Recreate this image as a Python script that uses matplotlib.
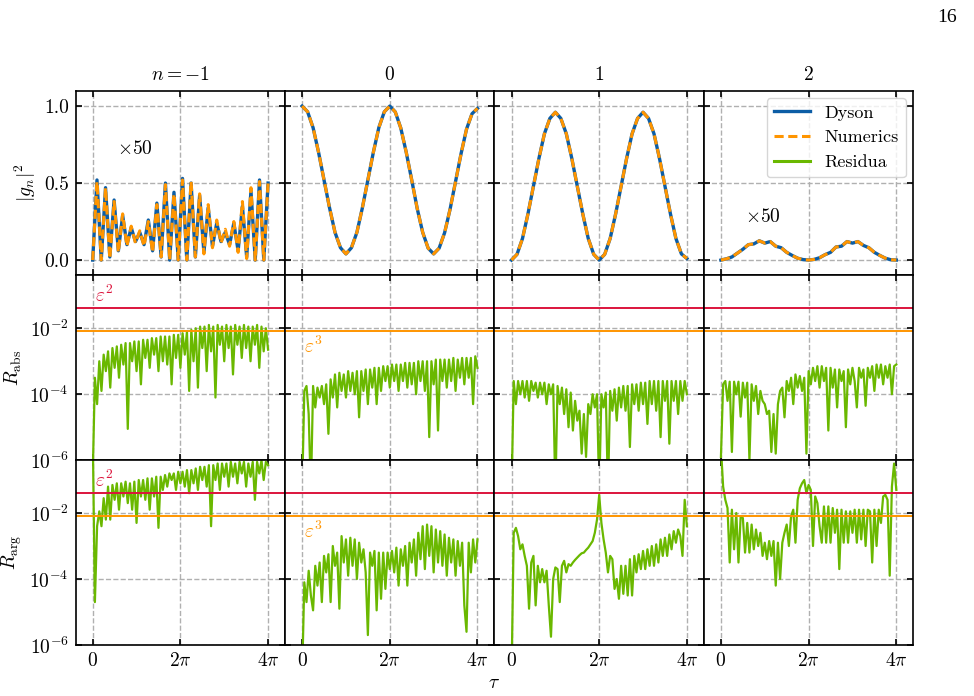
import numpy as np
import matplotlib
matplotlib.use("Agg")
import matplotlib.pyplot as plt
from matplotlib.lines import Line2D
from matplotlib.ticker import FixedLocator, NullLocator

plt.rcParams.update({
    "font.family": "serif",
    "font.serif": ["cmr10"],
    "mathtext.fontset": "cm",
    "axes.formatter.use_mathtext": True,
    "axes.unicode_minus": False,
    "font.size": 14,
})

blue = "#0C5DA5"
orange = "#FF9500"
green = "#6AB800"
crimson = "#DC143C"
eps = 0.2

col_titles = [r"$n=-1$", r"$0$", r"$1$", r"$2$"]
xtick_labels = [r"$0$", r"$2\pi$", r"$4\pi$"]

# |g_n|^2 (n=-1 and n=2 are scaled x50)
g_m1_dyson = [0.0, 0.52, 0.0, 0.47, 0.02, 0.39, 0.06, 0.29, 0.10, 0.21, 0.12, 0.18, 0.10, 0.26,
              0.06, 0.37, 0.02, 0.50, 0.0, 0.44, 0.0, 0.53, 0.0, 0.50, 0.02, 0.42, 0.05, 0.34,
              0.09, 0.24, 0.12, 0.18, 0.10, 0.24, 0.06, 0.35, 0.02, 0.45, 0.0, 0.52, 0.0, 0.50]
g_m1_num = [0.0, 0.51, 0.0, 0.47, 0.01, 0.38, 0.05, 0.30, 0.09, 0.22, 0.11, 0.19, 0.09, 0.25,
            0.05, 0.36, 0.02, 0.49, 0.0, 0.43, 0.0, 0.52, 0.0, 0.51, 0.02, 0.43, 0.04, 0.36,
            0.08, 0.26, 0.11, 0.20, 0.09, 0.25, 0.05, 0.38, 0.01, 0.47, 0.0, 0.51, 0.0, 0.50]
g_0 = [1.0, 0.963, 0.86, 0.70, 0.52, 0.34, 0.18, 0.08, 0.04, 0.08, 0.18, 0.34, 0.52, 0.70, 0.86,
       0.963, 1.0, 0.962, 0.858, 0.70, 0.52, 0.335, 0.18, 0.077, 0.04, 0.077, 0.177, 0.33, 0.51,
       0.69, 0.85, 0.95, 0.985]
g_1 = [0.0, 0.037, 0.14, 0.30, 0.48, 0.66, 0.82, 0.92, 0.96, 0.92, 0.82, 0.66, 0.48, 0.30, 0.14,
       0.037, 0.0, 0.037, 0.14, 0.30, 0.48, 0.66, 0.82, 0.92, 0.96, 0.92, 0.82, 0.66, 0.48, 0.30,
       0.14, 0.04, 0.01]
g_2 = [0.0, 0.008, 0.02, 0.045, 0.07, 0.10, 0.105, 0.125, 0.11, 0.12, 0.09, 0.08, 0.05, 0.03,
       0.012, 0.003, 0.0, 0.004, 0.015, 0.035, 0.05, 0.085, 0.09, 0.12, 0.11, 0.12, 0.095, 0.08,
       0.05, 0.03, 0.012, 0.002, 0.0]

# log10 of residua, R_abs
rabs_m1 = [-6.5,
           -3.5, -4.3, -3.0, -3.9, -2.8, -3.3, -2.7, -3.8, -2.6, -3.2, -2.55, -3.5, -2.5, -3.1, -2.45, -5.05,
           -2.45, -3.0, -2.4, -3.3, -2.4, -3.7, -2.35, -2.9, -2.35, -3.2, -2.3, -2.8, -2.3, -3.3, -2.25, -3.0,
           -2.25, -3.1, -2.25, -3.7, -2.2, -2.9, -2.2, -3.2, -2.15, -2.8, -2.1, -3.9, -2.05, -3.0, -2.0, -3.8,
           -1.95, -2.6, -1.95, -3.3, -1.9, -2.7, -1.95, -4.1, -1.9, -2.5, -1.95, -3.0, -1.9, -2.6, -1.95, -3.4,
           -1.9, -2.5, -1.95, -2.9, -1.9, -2.6, -1.95, -3.0, -1.95, -2.5, -1.9, -3.2, -1.95, -2.7, -2.0, -2.65]
rabs_0 = [-7, -3.9, -3.75, -4.6, -7, -3.75, -4.4, -3.8, -4.1, -3.75, -4.3, -3.7, -5.2, -3.55, -4.1,
          -3.4, -4.4, -3.35, -3.9, -3.4, -4.1, -3.3, -3.9, -3.35, -4.0, -3.3, -4.7, -3.3, -3.9, -3.25,
          -4.3, -3.25, -3.8, -3.2, -4.3, -3.2, -3.9, -3.15, -3.6, -3.15, -3.8, -3.1, -3.6, -3.1, -3.9,
          -3.1, -3.6, -3.05, -3.8, -3.05, -3.7, -3.05, -4.0, -3.0, -3.6, -3.0, -3.9, -3.0, -5.3, -3.0,
          -3.7, -2.95, -5.1, -2.95, -3.6, -2.95, -3.8, -2.95, -3.6, -2.9, -3.9, -2.95, -3.5, -2.9, -3.7,
          -2.9, -3.5, -2.9, -4.3, -2.85, -3.2]
rabs_1 = [-7, -3.6, -4.3, -3.6, -4.0, -3.6, -4.1, -3.6, -4.2, -3.6, -3.9, -3.65, -4.1, -3.65, -4.0,
          -3.65, -4.3, -3.7, -4.0, -3.7, -7, -3.75, -4.3, -3.8, -4.6, -3.85, -5.0, -3.95, -5.1, -4.2,
          -4.8, -4.5, -5.8, -4.6, -5.9, -4.3, -4.6, -4.0, -4.4, -4.0, -7, -4.0, -4.4, -3.95, -7,
          -3.9, -4.5, -3.85, -4.8, -3.8, -4.4, -3.75, -4.5, -3.75, -5.6, -3.7, -4.3, -3.7, -4.5, -3.65,
          -4.3, -3.65, -4.9, -3.6, -4.3, -3.6, -4.5, -3.6, -5.3, -3.6, -4.2, -3.6, -5.5, -3.6, -4.2,
          -3.6, -4.6, -3.6, -4.2, -3.6, -4.0]
rabs_2 = [-5.9, -3.7, -3.6, -4.2, -3.62, -5.75, -3.62, -4.0, -3.62, -4.68, -3.65, -4.1, -3.65, -6.0,
          -3.7, -4.2, -3.75, -4.6, -3.9, -4.2, -4.3, -4.6, -4.5, -5.75, -4.6, -5.8, -4.3, -3.9, -3.8,
          -4.7, -3.6, -3.9, -3.5, -4.3, -3.4, -3.8, -3.45, -3.9, -3.5, -5.8, -3.3, -3.7, -3.2, -3.6,
          -3.15, -3.8, -3.15, -3.6, -3.2, -5.1, -3.2, -3.8, -3.25, -4.4, -3.25, -3.6, -3.3, -5.0, -3.25,
          -3.7, -3.2, -3.6, -4.4, -3.2, -3.5, -3.25, -4.35, -3.2, -3.5, -3.15, -3.9, -3.1, -3.5, -3.1,
          -3.7, -3.15, -3.5, -3.1, -4.0, -3.15, -3.1]

# log10 of residua, R_arg
rarg_m1 = [0.5, -4.7, -2.4, -1.95, -2.4, -1.55, -2.2, -1.2, -2.2, -1.15, -1.6, -1.1, -1.9, -1.1, -1.5,
           -1.05, -1.7, -1.1, -1.9, -1.05, -2.3, -1.0, -1.5, -1.0, -1.6, -0.95, -1.9, -0.95, -1.5, -0.9,
           -2.45, -0.9, -1.3, -0.85, -1.2, -0.8, -1.0, -0.8, -1.3, -0.75, -1.1, -0.75, -1.2, -0.7, -1.4,
           -0.7, -1.1, -0.65, -1.3, -0.6, -1.0, -0.6, -1.2, -0.55, -2.4, -0.55, -1.0, -0.5, -1.3, -0.5,
           -0.9, -0.5, -1.2, -0.45, -0.9, -0.5, -1.1, -0.45, -0.8, -0.45, -1.2, -0.5, -0.9, -0.45, -1.6,
           -0.45, -0.8, -0.4, -1.0, -0.45, -0.55]
rarg_0 = [-7, -4.1, -4.7, -3.75, -4.5, -4.95, -3.6, -4.2, -3.5, -4.7, -3.3, -3.8, -3.25, -4.7, -3.0,
          -3.6, -3.2, -4.9, -2.7, -3.5, -2.8, -3.9, -2.75, -3.6, -2.8, -4.0, -2.9, -3.5, -3.1, -3.8,
          -5.7, -3.2, -3.6, -3.15, -4.95, -3.2, -4.6, -3.2, -4.3, -3.2, -3.7, -3.15, -3.8, -3.05, -4.2,
          -3.1, -3.6, -3.0, -4.2, -2.9, -3.5, -2.8, -3.9, -2.6, -3.4, -2.4, -3.7, -2.35, -3.3, -2.4,
          -3.8, -2.5, -3.5, -2.55, -3.6, -2.65, -3.9, -2.75, -3.5, -2.8, -3.9, -2.85, -3.6, -2.9, -4.8,
          -5.6, -2.9, -3.8, -2.8, -3.5, -2.8]
rarg_1 = [-7, -2.6, -2.45, -2.7, -3.1, -2.95, -3.3, -3.6, -4.9, -3.5, -3.3, -4.8, -3.6, -4.1, -3.7,
          -4.1, -3.75, -4.8, -5.75, -4.0, -3.65, -3.7, -4.7, -3.6, -3.45, -3.8, -3.55, -3.6, -3.5, -3.42,
          -3.35, -3.28, -3.22, -3.2, -3.12, -3.05, -2.95, -2.85, -2.6, -2.2, -1.45, -2.3, -2.8, -3.2, -3.8,
          -3.3, -3.4, -4.3, -4.0, -4.6, -3.6, -4.45, -3.6, -4.5, -3.4, -4.5, -3.3, -3.8, -3.25, -3.7,
          -3.15, -3.7, -3.1, -3.6, -3.0, -3.6, -2.95, -3.5, -2.8, -3.3, -2.75, -3.3, -2.65, -3.1, -2.55,
          -2.9, -2.5, -2.7, -3.3, -1.6, -2.4]
rarg_2 = [0.0, -1.2, -1.6, -1.85, -3.5, -1.9, -3.1, -2.0, -3.5, -2.1, -2.15, -3.2, -2.3, -3.2, -2.35,
          -3.1, -2.5, -3.0, -2.6, -3.3, -2.9, -3.4, -2.85, -3.3, -2.85, -4.2, -2.9, -4.0, -2.9, -2.6,
          -2.35, -3.0, -2.1, -1.9, -2.9, -1.6, -1.25, -1.1, -1.0, -1.4, -1.15, -1.3, -3.0, -1.5, -1.7,
          -2.4, -2.9, -1.8, -2.9, -1.8, -2.9, -1.85, -2.6, -1.9, -3.7, -1.9, -2.9, -1.95, -2.9, -1.95,
          -2.6, -1.9, -2.9, -1.9, -2.8, -1.9, -3.0, -1.9, -1.95, -3.5, -1.9, -3.0, -1.9, -2.3, -1.5,
          -1.45, -1.6, -3.9, -1.2, -0.5, -1.3]

top_dyson = [g_m1_dyson, g_0, g_1, g_2]
top_num = [g_m1_num, g_0, g_1, g_2]
r_abs = [rabs_m1, rabs_0, rabs_1, rabs_2]
r_arg = [rarg_m1, rarg_0, rarg_1, rarg_2]

fig, axes = plt.subplots(3, 4, figsize=(9.74, 6.96), dpi=100, sharex=True, sharey="row")
fig.subplots_adjust(left=0.0777, right=0.9377, top=0.8697, bottom=0.0733, wspace=0, hspace=0)

for j in range(4):
    ax = axes[0, j]
    t = np.linspace(0, 4*np.pi, len(top_dyson[j]))
    ax.plot(t, top_dyson[j], color=blue, lw=2.4)
    ax.plot(t, top_num[j], color=orange, lw=2.2, dashes=(3, 1.5))
    ax.set_title(col_titles[j], fontsize=14, pad=8)
    for i, data in ((1, r_abs[j]), (2, r_arg[j])):
        ax = axes[i, j]
        t = np.linspace(0, 4*np.pi, len(data))
        ax.plot(t, 10**np.array(data), color=green, lw=1.6)
        ax.axhline(eps**2, color=crimson, lw=1.4)
        ax.axhline(eps**3, color=orange, lw=1.4)

axes[0, 0].text(1.76, 0.69, r"$\times50$", fontsize=14)
axes[0, 3].text(1.7, 0.25, r"$\times50$", fontsize=14)
for i in (1, 2):
    axes[i, 0].text(0.15, 0.048, r"$\varepsilon^2$", color=crimson, fontsize=14, va="bottom")
    axes[i, 1].text(0.15, 0.0058, r"$\varepsilon^3$", color=orange, fontsize=14, va="top")

for i in (1, 2):
    axes[i, 0].set_yscale("log")
    axes[i, 0].set_ylim(1e-6, 10**-0.4)
    axes[i, 0].yaxis.set_major_locator(FixedLocator([1e-6, 1e-4, 1e-2]))
    axes[i, 0].yaxis.set_minor_locator(NullLocator())

axes[0, 0].set_ylim(-0.1, 1.1)
axes[0, 0].set_yticks([0, 0.5, 1.0])
axes[0, 0].set_yticklabels(["0.0", "0.5", "1.0"])
axes[0, 0].set_xlim(-1.22, 4*np.pi + 1.22)
axes[0, 0].set_xticks([0, 2*np.pi, 4*np.pi])
for ax in axes[2]:
    ax.set_xticklabels(xtick_labels)

axes[0, 0].set_ylabel(r"$|g_n|^2$", fontsize=14, labelpad=4)
axes[1, 0].set_ylabel(r"$R_{\rm abs}$", fontsize=14, labelpad=4)
axes[2, 0].set_ylabel(r"$R_{\rm arg}$", fontsize=14, labelpad=4)

for ax in axes.flat:
    ax.grid(True, color="#b0b0b0", ls="--", lw=1)
    ax.set_axisbelow(True)
    ax.tick_params(which="both", direction="in", top=True, right=True, length=4.5, width=1.2,
                   labelsize=14, pad=5)
    for s in ax.spines.values():
        s.set_linewidth(1.2)

handles = [Line2D([], [], color=blue, lw=2.4),
           Line2D([], [], color=orange, lw=2.2, dashes=(3, 1.5)),
           Line2D([], [], color=green, lw=2.2)]
axes[0, 3].legend(handles, ["Dyson", "Numerics", "Residua"], loc="upper right", fontsize=13,
                  framealpha=0.8, handlelength=2.0, borderaxespad=0.4)

fig.text(0.5075, 0.019, r"$\tau$", ha="center", va="center", fontsize=14)
fig.text(957/974, 1 - 9/696, "16", ha="right", va="top", fontsize=14, family="Liberation Serif")

fig.savefig("out.png", dpi=100)
